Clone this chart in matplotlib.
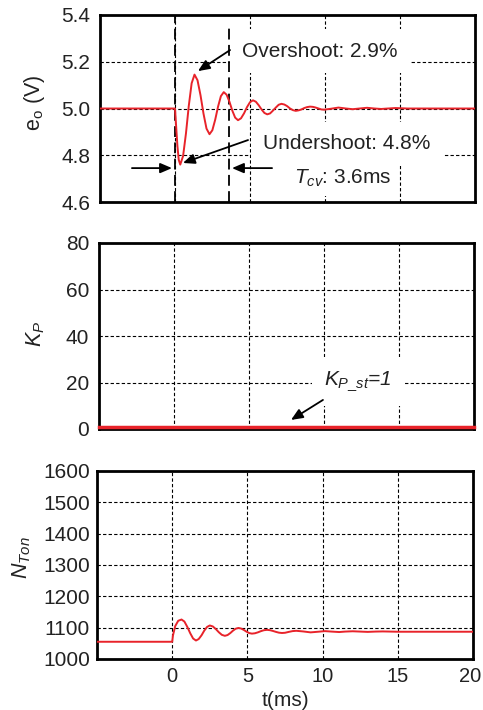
import matplotlib
matplotlib.use("Agg")
import matplotlib.pyplot as plt
import matplotlib.transforms as mtransforms

plt.rcParams['font.family'] = ['Liberation Sans', 'DejaVu Sans']
plt.rcParams['mathtext.fontset'] = 'custom'
plt.rcParams['mathtext.rm'] = 'Liberation Sans'
plt.rcParams['mathtext.it'] = 'Liberation Sans:italic'
plt.rcParams['mathtext.bf'] = 'Liberation Sans:bold'

# ---------------- data ----------------
t_eo = [-5.0, 0.0, 0.08, 0.16, 0.25, 0.35, 0.54, 0.73, 0.92, 1.11, 1.30,
        1.5, 1.7, 1.9, 2.1, 2.3, 2.49, 2.68, 2.87, 3.06, 3.25,
        3.44, 3.63, 3.82, 4.01, 4.2, 4.4, 4.6, 4.8, 5.0, 5.2,
        5.39, 5.58, 5.77, 5.96, 6.15, 6.34, 6.53, 6.72, 6.91, 7.1,
        7.29, 7.48, 7.67, 7.86, 8.05, 8.24, 8.43, 8.62, 8.81, 9.0,
        9.19, 9.38, 9.57, 9.76, 9.95, 10.4, 10.9, 11.4, 11.85, 12.3,
        12.8, 13.3, 13.75, 14.2, 14.7, 15.5, 20.0]
eo = [5.0, 5.0, 4.92, 4.84, 4.78, 4.76, 4.797, 4.893, 5.012, 5.108, 5.145,
      5.121, 5.057, 4.978, 4.914, 4.89, 4.907, 4.952, 5.008, 5.053, 5.07,
      5.059, 5.029, 4.991, 4.961, 4.95, 4.958, 4.979, 5.006, 5.027, 5.035,
      5.029, 5.014, 4.996, 4.981, 4.975, 4.979, 4.991, 5.004, 5.016, 5.02,
      5.017, 5.010, 5.000, 4.993, 4.99, 4.992, 4.996, 5.002, 5.006, 5.008,
      5.007, 5.004, 5.0, 4.996, 4.995, 4.999, 5.004, 5.0, 4.997, 5.0,
      5.003, 5.0, 4.998, 5.0, 5.002, 5.0, 5.0]

t_kp = [-5.0, 20.0]
kp = [1.0, 1.0]

t_n = [-5.0, 0.0, 0.05, 0.2, 0.4, 0.62, 0.81, 1.0, 1.2, 1.39, 1.58,
       1.76, 1.95, 2.13, 2.32, 2.5, 2.7, 2.9, 3.1, 3.3, 3.5,
       3.68, 3.86, 4.04, 4.22, 4.4, 4.58, 4.76, 4.94, 5.12, 5.3,
       5.5, 5.7, 5.9, 6.1, 6.3, 6.5, 6.7, 6.9, 7.1, 7.3,
       7.5, 7.75, 8.0, 8.25, 8.7, 9.2, 9.7, 10.15, 10.6, 11.1,
       11.5, 12.0, 12.5, 13.0, 13.5, 14.0, 15.0, 20.0]
n_ton = [1055, 1055, 1075, 1105, 1122, 1126, 1119.6, 1102.9, 1082.1, 1065.4, 1059,
         1063.6, 1075.6, 1090.4, 1102.4, 1107, 1103.9, 1095.6, 1085.4, 1077.1, 1074,
         1076.4, 1082.6, 1090.4, 1096.6, 1099, 1097.3, 1092.8, 1087.2, 1082.7, 1081,
         1082.1, 1085.1, 1088.9, 1091.9, 1093, 1092, 1089.5, 1086.5, 1084, 1083,
         1083.7, 1086.5, 1089, 1090, 1088, 1085, 1087, 1089, 1087.5, 1086,
         1087.5, 1088.5, 1087.5, 1086.5, 1087.5, 1088, 1087, 1087]

x_ticks = [0, 5, 10, 15, 20]
x_ticklabels = ['0', '5', '10', '15', '20']
eo_ticks = [4.6, 4.8, 5.0, 5.2, 5.4]
kp_ticks = [0, 20, 40, 60, 80]
n_ticks = [1000, 1100, 1200, 1300, 1400, 1500, 1600]

RED = '#e8232a'
TXT = '#222222'
FS = 15
LFS = 15.5

fig = plt.figure(figsize=(4.83, 7.10), dpi=100)
W, H = 483.0, 710.0

def axes_px(l, t, r, b):
    return fig.add_axes([l / W, 1 - b / H, (r - l) / W, (b - t) / H])

ax1 = axes_px(100, 15, 475, 202)
ax2 = axes_px(99, 243, 474, 429)
ax3 = axes_px(97, 471, 473, 659)

def style(ax, yticks, ylim):
    ax.set_xlim(-5, 20)
    ax.set_ylim(*ylim)
    ax.set_xticks(x_ticks)
    ax.set_yticks(yticks)
    ax.set_axisbelow(True)
    ax.grid(True, color='black', linestyle=(0, (3, 2)), linewidth=0.8)
    for s in ax.spines.values():
        s.set_linewidth(2.0)
        s.set_color('black')
    ax.tick_params(length=0, labelsize=FS, labelcolor=TXT, pad=7)

style(ax1, eo_ticks, (4.6, 5.4))
style(ax2, kp_ticks, (0, 80))
style(ax3, n_ticks, (1000, 1600))

ax1.set_xticklabels([])
ax2.set_xticklabels([])
ax3.set_xticklabels(x_ticklabels)
ax1.set_yticklabels(['4.6', '4.8', '5.0', '5.2', '5.4'])
ax3.tick_params(axis='y', pad=5)
ax3.tick_params(axis='x', pad=6, labelsize=14.5)
# keep the last x tick label inside the figure
last = ax3.get_xticklabels()[-1]
last.set_transform(last.get_transform() +
                   mtransforms.ScaledTranslation(-3 / 100, 0, fig.dpi_scale_trans))

# lines
ax1.plot(t_eo, eo, color=RED, linewidth=1.4, zorder=5)
ax2.plot(t_kp, kp, color=RED, linewidth=2.5, zorder=5, clip_on=False)
ax3.plot(t_n, n_ton, color=RED, linewidth=1.4, zorder=5)

# labels
ax1.set_ylabel(r'e$_\mathrm{o}$ (V)', fontsize=LFS, color=TXT)
ax1.yaxis.set_label_coords(-0.141, 0.53)
ax2.set_ylabel(r'$K_P$', fontsize=LFS, color=TXT)
ax2.yaxis.set_label_coords(-0.139, 0.51)
ax3.set_ylabel(r'$N_{Ton}$', fontsize=LFS, color=TXT)
ax3.yaxis.set_label_coords(-0.17, 0.54)
ax3.set_xlabel('t(ms)', fontsize=FS, color=TXT, labelpad=3)

# marker lines in top panel
ax1.axvline(0, color='black', linestyle=(0, (6, 3)), linewidth=1.3, zorder=3)
ax1.axvline(3.6, ymax=0.93, color='black', linestyle=(0, (6, 3)), linewidth=1.3, zorder=3)

box = dict(facecolor='white', edgecolor='none', boxstyle='square,pad=0.6')
arr = dict(arrowstyle='-|>,head_length=0.7,head_width=0.3', color='black',
           linewidth=1.3, shrinkA=0, shrinkB=0)

ax1.text(9.67, 5.245, 'Overshoot: 2.9%', fontsize=FS, color=TXT,
         ha='center', va='center', bbox=box, zorder=4)
ax1.annotate('', xy=(1.53, 5.16), xytext=(3.67, 5.25), arrowprops=arr, zorder=6)

ax1.text(11.47, 4.85, 'Undershoot: 4.8%', fontsize=FS, color=TXT,
         ha='center', va='center', bbox=box, zorder=4)
ax1.annotate('', xy=(0.53, 4.767), xytext=(4.87, 4.865), arrowprops=arr, zorder=6)

ax1.text(11.2, 4.70, r'$T_{cv}$: 3.6ms', fontsize=FS, color=TXT,
         ha='center', va='center', bbox=dict(facecolor='white', edgecolor='none',
                                               boxstyle='square,pad=0.3'), zorder=4)
ax1.annotate('', xy=(-0.2, 4.745), xytext=(-2.87, 4.745), arrowprops=arr, zorder=6)
ax1.annotate('', xy=(3.8, 4.745), xytext=(6.47, 4.745), arrowprops=arr, zorder=6)

ax2.text(12.27, 20.5, r'$K_{P\_st}$=1', fontsize=FS, color=TXT, style='italic',
         ha='center', va='center', bbox=box, zorder=4)
ax2.annotate('', xy=(7.8, 3.9), xytext=(9.93, 12.5), arrowprops=arr, zorder=6)

fig.savefig('out.png', dpi=100)
